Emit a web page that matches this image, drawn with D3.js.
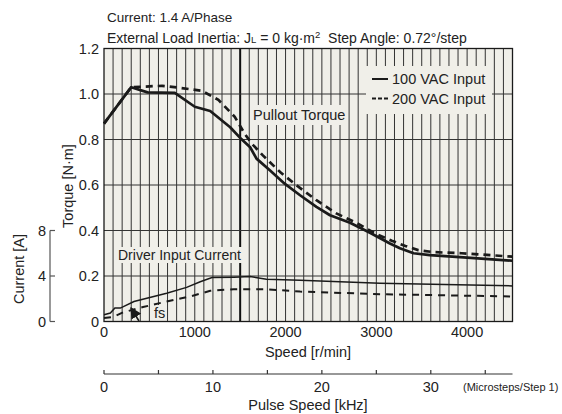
<!DOCTYPE html>
<html>
<head>
<meta charset="utf-8">
<script src="https://cdn.jsdelivr.net/npm/d3@7"></script>
<style>
  body { margin: 0; background: #fff; }
  svg text { font-family: "Liberation Sans", Arial, sans-serif; fill: #222; }
</style>
</head>
<body>
<script>
// pullout torque, 100 VAC input  [speed r/min, torque N·m]
var torque100 = [[0,0.87],[300,1.03],[480,1.007],[780,1.005],[1000,0.944],[1170,0.925],[1390,0.854],[1510,0.803],[1610,0.766],[1680,0.716],[1830,0.664],[1990,0.606],[2160,0.555],[2340,0.504],[2490,0.467],[2710,0.434],[2930,0.39],[3150,0.343],[3260,0.322],[3410,0.30],[3590,0.292],[3960,0.282],[4500,0.267]];
// pullout torque, 200 VAC input
var torque200 = [[0,0.87],[300,1.03],[640,1.036],[820,1.028],[1080,1.014],[1260,0.974],[1440,0.90],[1550,0.825],[1630,0.781],[1750,0.73],[1940,0.657],[2120,0.599],[2340,0.533],[2560,0.475],[2780,0.434],[3000,0.384],[3170,0.355],[3320,0.332],[3460,0.314],[3630,0.305],[3940,0.30],[4500,0.285]];
// driver input current [speed r/min, current A]
var current100 = [[0,0.6],[70,0.74],[120,1.18],[180,1.18],[330,1.76],[690,2.49],[910,3.0],[1060,3.5],[1190,3.86],[1430,3.9],[1610,3.95],[1790,3.72],[2160,3.63],[3040,3.37],[4500,3.13]];
var current200 = [[0,0.3],[100,0.4],[210,0.8],[430,1.27],[690,1.76],[950,2.2],[1170,2.7],[1430,2.84],[1790,2.84],[2160,2.63],[3040,2.4],[4500,2.2]];

var speedTicks = [0, 1000, 2000, 3000, 4000];
var torqueTicks = [0, 0.2, 0.4, 0.6, 0.8, 1.0, 1.2];
var currentTicks = [0, 4, 8];
var pulseTicks = [0, 5, 10, 15, 20, 25, 30, 35];
var pulseLabels = [0, 10, 20, 30];
var legendNames = ["100 VAC Input", "200 VAC Input"];

var W = 562, H = 414;
// plot box (don't call these top/left, window.top is taken)
var pL = 104, pR = 512.5, pT = 48.5, pB = 321.5;
var bg = "#f0efe9";

var svg = d3.select("body").append("svg")
    .attr("width", W)
    .attr("height", H);

var x = d3.scaleLinear().domain([0, 4500]).range([pL, pR]);
var y = d3.scaleLinear().domain([0, 1.2]).range([pB, pT]);
// 8 A sits on 0.4 N·m
var yCur = d3.scaleLinear().domain([0, 24]).range([pB, pT]);
// 0.72°/step -> 500 steps/rev, 1 kHz = 120 r/min
var xPulse = d3.scaleLinear().domain([0, 37.5]).range([pL, pR]);

// plot background
svg.append("rect")
    .attr("x", pL).attr("y", pT)
    .attr("width", pR - pL).attr("height", pB - pT)
    .attr("fill", bg);

// vertical grid every 100 r/min
svg.append("g").selectAll("line")
    .data(d3.range(100, 4500, 100))
    .enter().append("line")
    .attr("x1", d => x(d)).attr("x2", d => x(d))
    .attr("y1", pT).attr("y2", pB)
    .attr("stroke", d => d == 1500 ? "#111" : "#333")
    .attr("stroke-width", d => d == 1500 ? 2 : 1);

// horizontal grid
svg.append("g").selectAll("line")
    .data(torqueTicks.slice(1, -1))
    .enter().append("line")
    .attr("x1", pL).attr("x2", pR)
    .attr("y1", d => y(d)).attr("y2", d => y(d))
    .attr("stroke", "#333")
    .attr("stroke-width", 1);

// label boxes hide the grid behind text
function box(x0, y0, w, h) {
  svg.append("rect").attr("x", x0).attr("y", y0).attr("width", w).attr("height", h).attr("fill", bg);
}
box(366, 66, 126, 48);   // legend
box(251, 105, 94, 20);   // Pullout Torque
box(115, 247, 127, 16);  // Driver Input Current
box(152, 305, 15, 16);   // fs

var line = d3.line()
    .x(d => x(d[0]))
    .y(d => y(d[1]));
var lineCur = d3.line()
    .x(d => x(d[0]))
    .y(d => yCur(d[1]));

svg.append("path").datum(current100)
    .attr("d", lineCur).attr("fill", "none")
    .attr("stroke", "#1a1a1a").attr("stroke-width", 1.5);
svg.append("path").datum(current200)
    .attr("d", lineCur).attr("fill", "none")
    .attr("stroke", "#1a1a1a").attr("stroke-width", 2)
    .attr("stroke-dasharray", "7,6");

svg.append("path").datum(torque100)
    .attr("d", line).attr("fill", "none")
    .attr("stroke", "#1a1a1a").attr("stroke-width", 2.7)
    .attr("stroke-linejoin", "round");
svg.append("path").datum(torque200)
    .attr("d", line).attr("fill", "none")
    .attr("stroke", "#1a1a1a").attr("stroke-width", 2.7)
    .attr("stroke-dasharray", "7,5");

// frame
svg.append("rect")
    .attr("x", pL).attr("y", pT)
    .attr("width", pR - pL).attr("height", pB - pT)
    .attr("fill", "none").attr("stroke", "#1a1a1a").attr("stroke-width", 1.3);

// legend
var legend = svg.append("g").selectAll("g")
    .data(legendNames)
    .enter().append("g")
    .attr("transform", (d, i) => "translate(372," + (79 + i * 19.5) + ")");
legend.append("line")
    .attr("x1", 0).attr("x2", 16).attr("y1", 0).attr("y2", 0)
    .attr("stroke", "#1a1a1a").attr("stroke-width", 2)
    .attr("stroke-dasharray", (d, i) => i ? "4,2" : null);
legend.append("text")
    .attr("x", 20).attr("y", 5)
    .attr("font-size", 14.5)
    .text(d => d);

// in-plot labels
svg.append("text").attr("x", 253).attr("y", 120).attr("font-size", 14.5).text("Pullout Torque");
svg.append("text").attr("x", 118).attr("y", 260).attr("font-size", 14).text("Driver Input Current");
svg.append("text").attr("x", 154).attr("y", 318).attr("font-size", 14.5).text("fs");

// fs arrow
svg.append("defs").append("marker")
    .attr("id", "head").attr("viewBox", "0 0 10 10")
    .attr("refX", 9).attr("refY", 5)
    .attr("markerWidth", 7).attr("markerHeight", 7)
    .attr("orient", "auto")
    .append("path").attr("d", "M0,0L10,5L0,10z").attr("fill", "#1a1a1a");
svg.append("line")
    .attr("x1", 139).attr("y1", 321).attr("x2", 131).attr("y2", 308)
    .attr("stroke", "#1a1a1a").attr("stroke-width", 1.6)
    .attr("marker-end", "url(#head)");

// torque axis labels
svg.append("g").selectAll("text")
    .data(torqueTicks)
    .enter().append("text")
    .attr("x", 99).attr("y", d => y(d) + 5)
    .attr("text-anchor", "end").attr("font-size", 14.5)
    .text(d => d == 0 ? "0" : d.toFixed(1));

svg.append("text")
    .attr("transform", "translate(73,186) rotate(-90)")
    .attr("text-anchor", "middle").attr("font-size", 14.5)
    .text("Torque [N·m]");

// current axis on the far left
var curAxis = svg.append("g");
curAxis.append("line")
    .attr("x1", 50).attr("x2", 50)
    .attr("y1", yCur(8)).attr("y2", yCur(0))
    .attr("stroke", "#555").attr("stroke-width", 1.2);
curAxis.selectAll(".tick")
    .data(currentTicks)
    .enter().append("line")
    .attr("x1", 50).attr("x2", 55)
    .attr("y1", d => yCur(d)).attr("y2", d => yCur(d))
    .attr("stroke", "#555").attr("stroke-width", 1.2);
curAxis.selectAll("text")
    .data(currentTicks)
    .enter().append("text")
    .attr("x", 46).attr("y", d => yCur(d) + 5)
    .attr("text-anchor", "end").attr("font-size", 14.5)
    .text(d => d);
svg.append("text")
    .attr("transform", "translate(24,269) rotate(-90)")
    .attr("text-anchor", "middle").attr("font-size", 14.5)
    .text("Current [A]");

// speed axis labels
svg.append("g").selectAll("text")
    .data(speedTicks)
    .enter().append("text")
    .attr("x", d => x(d)).attr("y", 337)
    .attr("text-anchor", "middle").attr("font-size", 14.5)
    .text(d => d);
svg.append("text")
    .attr("x", 308).attr("y", 357)
    .attr("text-anchor", "middle").attr("font-size", 14.5)
    .text("Speed [r/min]");

// pulse speed axis
var pulse = svg.append("g").attr("transform", "translate(0,374)");
pulse.append("line")
    .attr("x1", pL).attr("x2", pR)
    .attr("stroke", "#333").attr("stroke-width", 1.2);
pulse.selectAll("line.t")
    .data(pulseTicks)
    .enter().append("line").attr("class", "t")
    .attr("x1", d => xPulse(d)).attr("x2", d => xPulse(d))
    .attr("y1", 0).attr("y2", -4)
    .attr("stroke", "#333").attr("stroke-width", 1.2);
pulse.selectAll("text")
    .data(pulseLabels)
    .enter().append("text")
    .attr("x", d => xPulse(d)).attr("y", 18)
    .attr("text-anchor", "middle").attr("font-size", 14.5)
    .text(d => d);
svg.append("text")
    .attr("x", 463).attr("y", 391)
    .attr("font-size", 11)
    .text("(Microsteps/Step 1)");
svg.append("text")
    .attr("x", 308).attr("y", 410)
    .attr("text-anchor", "middle").attr("font-size", 14.5)
    .text("Pulse Speed [kHz]");

// header
svg.append("text")
    .attr("x", 107).attr("y", 21.5)
    .attr("font-size", 13.5)
    .text("Current: 1.4 A/Phase");
var t2 = svg.append("text")
    .attr("x", 107).attr("y", 43)
    .attr("font-size", 14);
t2.append("tspan").text("External Load Inertia: J");
t2.append("tspan").attr("font-size", 9.5).text("L");
t2.append("tspan").text("\u00a0= 0 kg·m");
t2.append("tspan").attr("font-size", 9.5).attr("dy", -5).text("2");
t2.append("tspan").attr("dy", 5).text("\u00a0 Step Angle: 0.72°/step");
</script>
</body>
</html>
